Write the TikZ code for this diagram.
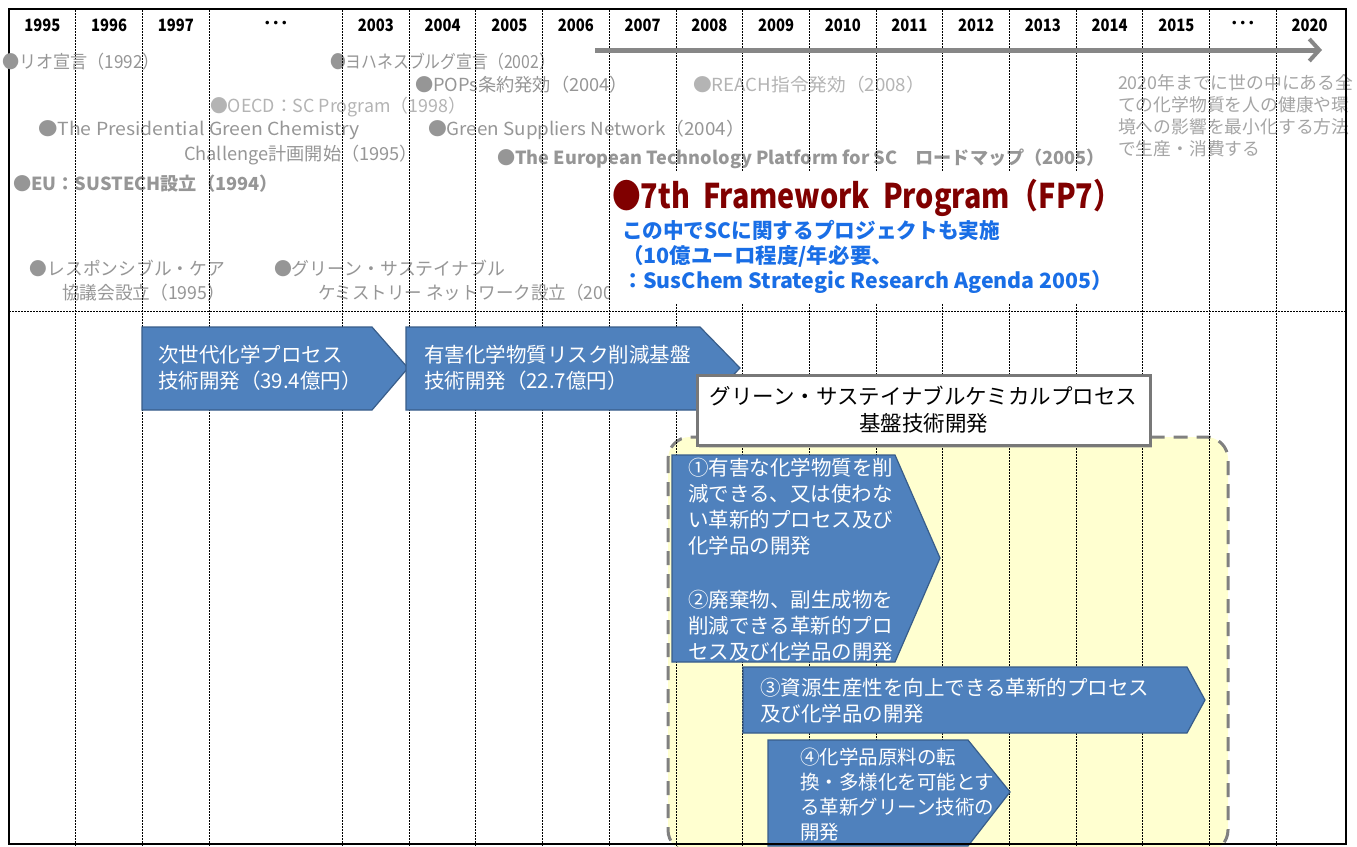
\documentclass[tikz,border=0pt]{standalone}
\usepackage{fontspec}
\setmainfont{Noto Sans CJK JP}
\usepackage{graphicx}
\usetikzlibrary{arrows.meta,shadows}
\definecolor{evgray}{RGB}{150,150,150}
\definecolor{evlight}{RGB}{180,180,180}
\definecolor{notegray}{RGB}{165,165,165}
\definecolor{fpred}{RGB}{128,0,0}
\definecolor{fpblue}{RGB}{25,110,230}
\definecolor{arrowblue}{RGB}{79,129,189}
\definecolor{arrowedge}{RGB}{56,93,138}
\definecolor{lightyellow}{RGB}{255,255,208}
\definecolor{dashgray}{RGB}{128,128,128}
\definecolor{boxgray}{RGB}{120,120,120}
\definecolor{tlgray}{RGB}{135,135,135}
\newcommand\fw[2]{\resizebox{#1pt}{\height}{#2}}
\begin{document}
\begin{tikzpicture}[x=1pt,y=-1pt,
  every node/.style={inner sep=0pt,outer sep=0pt},
  hdr/.style={font=\bfseries\fontsize{17}{19}\selectfont},
  evt/.style={anchor=west,text=evgray,font=\fontsize{18}{20}\selectfont},
  evtb/.style={evt,font=\bfseries\fontsize{18}{20}\selectfont},
  vline/.style={dash pattern=on 1.5pt off 1.5pt,line width=1pt},
  hline/.style={dash pattern=on 1.5pt off 1.5pt,line width=1pt},
  bluearrow/.style={fill=arrowblue,draw=arrowedge,line width=1.2pt},
  arrtext/.style={anchor=west,align=left,text=white,font=\fontsize{20.5}{26}\selectfont},
  bluetext/.style={anchor=west,text=fpblue,font=\bfseries\fontsize{21}{24}\selectfont}]
\useasboundingbox (0,0) rectangle (1357,846);
\fill[white] (0,0) rectangle (1357,846);

% yellow dashed area
\draw[fill=lightyellow,draw=dashgray,line width=3pt,dash pattern=on 14pt off 9pt,rounded corners=22pt] (668,437) rectangle (1228,852);

% header years
\foreach \yr [count=\i from 0] in {1995,1996,1997}
  \node[hdr] (y\yr) at ({9+66.7*(\i+0.5)},25) {\fw{36}{\yr}};
\node[hdr] (dotsa) at ({9+66.7*4},25) {･･･};
\foreach \yr [count=\i from 5] in {2003,2004,...,2015}
  \node[hdr] (y\yr) at ({9+66.7*(\i+0.5)},25) {\fw{36}{\yr}};
\node[hdr] (dotsb) at ({9+66.7*18.5},25) {･･･};
\node[hdr] (y2020) at ({9+66.7*19.5},25) {\fw{36}{2020}};

% events
\node[evt] (joh) at (330,62) {\fw{225}{●ヨハネスブルグ宣言（2002）}};
\node[evt] (pops) at (415,85) {\fw{213}{●POPs条約発効（2004）}};
\node[evt,text=evlight] (reach) at (693,85) {\fw{232}{●REACH指令発効（2008）}};
\node[evt,text=evlight] (oecd) at (210,107) {\fw{256}{●OECD：SC Program（1998）}};
\node[evt] (pres) at (38,130) {\fw{322}{●The Presidential Green Chemistry}};
\node[evt] (chal) at (184,155) {\fw{234}{Challenge計画開始（1995）}};
\node[evt] (gsn) at (428,130) {\fw{317}{●Green Suppliers Network（2004）}};
\node[evtb] (eur) at (497,159) {\fw{608}{●The European Technology Platform for SC　ロードマップ（2005）}};
\node[evtb] (sus) at (13,184) {\fw{265}{●EU：SUSTECH設立（1994）}};
\node[evt] (respa) at (30,268) {\fw{195}{●レスポンシブル・ケア}};
\node[evt] (respb) at (62,293) {\fw{163}{協議会設立（1995）}};
\node[evt] (gscna) at (274,268) {\fw{231}{●グリーン・サステイナブル}};
\node[evt] (gscnb) at (318,293) {\fw{322}{ケミストリー ネットワーク設立（2000）}};
\node[anchor=north west,align=left,text=notegray,font=\fontsize{17.8}{22}\selectfont] (note) at (1118,74)
  {2020年までに世の中にある全\\ての化学物質を人の健康や環\\境への影響を最小化する方法\\で生産・消費する};

% vertical dotted grid
\foreach \k in {1,2,3,5,6,...,19}
  \draw[vline] ({9+66.7*\k},10) -- ({9+66.7*\k},846);

% FP7 block
\fill[white] (610,172) rectangle (1126,304);
\node[anchor=west,text=fpred,font=\bfseries\fontsize{34}{38}\selectfont] (fp7) at (612,198)
  {\fw{510}{●7th\ \ Framework\ \ Program（FP7）}};
\node[bluetext] (fpa) at (622,230) {\fw{378}{この中でSCに関するプロジェクトも実施}};
\node[bluetext] (fpb) at (622,256) {\fw{271}{（10億ユーロ程度/年必要、}};
\node[bluetext] (fpc) at (622,282) {\fw{491}{：SusChem Strategic Research Agenda 2005）}};

% horizontal dotted line
\draw[hline] (9,311) -- (1346,311);

% blue arrows
\path[bluearrow] (142,327) -- (372,327) -- (408,368) -- (372,410) -- (142,410) -- cycle;
\node[arrtext] (pa) at (158,368) {次世代化学プロセス\\技術開発（39.4億円）};
\path[bluearrow] (406,327) -- (700,327) -- (740,368) -- (700,410) -- (406,410) -- cycle;
\node[arrtext] (pb) at (424,368) {有害化学物質リスク削減基盤\\技術開発（22.7億円）};

\node[draw=boxgray,line width=3pt,fill=white,minimum width=453pt,minimum height=70pt,align=center,
  font=\fontsize{21.5}{27}\selectfont,drop shadow={opacity=0.35,shadow xshift=2pt,shadow yshift=-3pt}] (gscp) at (923.5,410)
  {グリーン・サステイナブルケミカルプロセス\\基盤技術開発};

\path[bluearrow] (672,455) -- (895,455) -- (940,558) -- (895,662) -- (672,662) -- cycle;
\node[arrtext] (pc) at (688,560) {①有害な化学物質を削\\減できる、又は使わな\\い革新的プロセス及び\\化学品の開発\\[28pt]②廃棄物、副生成物を\\削減できる革新的プロ\\セス及び化学品の開発};
\path[bluearrow] (743,667) -- (1187,667) -- (1205,700) -- (1187,733) -- (743,733) -- cycle;
\node[arrtext] (pd) at (760,701) {③資源生産性を向上できる革新的プロセス\\及び化学品の開発};
\path[bluearrow] (768,740) -- (968,740) -- (1010,792) -- (968,846) -- (768,846) -- cycle;
\node[arrtext,font=\fontsize{19.5}{25}\selectfont] (pe) at (800,795) {④化学品原料の転\\換・多様化を可能とす\\る革新グリーン技術の\\開発};

% frame
\draw[line width=2.5pt] (9,9) rectangle (1346,844);

% timeline arrow
\coordinate (tls) at (595,50);
\coordinate (tle) at (1322,50);
\draw[tlgray,line width=5pt,-{Straight Barb[length=10pt,width=22pt,line width=4pt]}] (tls) -- (tle);

\node[evt] (rio) at (2,62) {\fw{158}{●リオ宣言（1992）}};
\end{tikzpicture}
\end{document}
